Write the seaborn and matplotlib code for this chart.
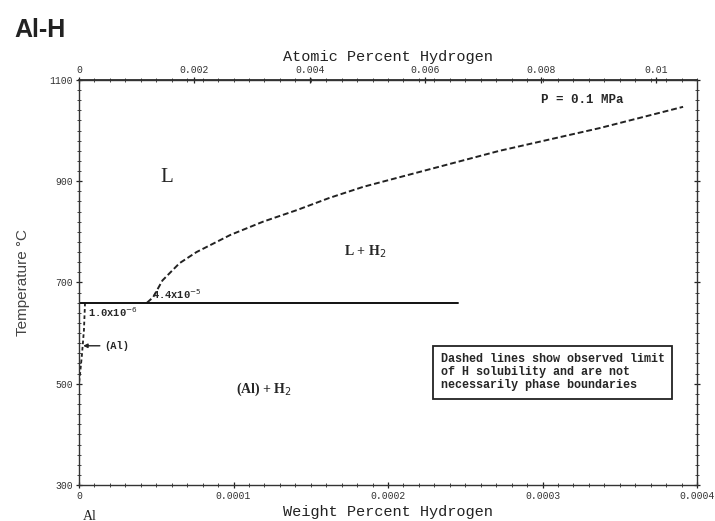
import numpy as np
import pandas as pd
import seaborn as sns
import matplotlib.pyplot as plt
from matplotlib.ticker import MultipleLocator, FixedLocator

# wt% -> at% for Al-H (M_Al / M_H)
WT_TO_AT = 26.98 / 1.008

# liquidus limit (dashed)
liquidus_wt = [4.4e-5, 4.8e-5, 5.4e-5, 6.5e-5, 7.6e-5, 9.8e-5, 1.19e-4, 1.41e-4,
               1.62e-4, 1.84e-4, 2.1e-4, 2.72e-4, 3.37e-4, 3.91e-4]
liquidus_T = [660, 671, 704, 738, 760, 794, 820, 843, 867, 889, 910, 960, 1005, 1047]

# solid solubility limit (dashed)
solidus_wt = [3.9e-6, 3.2e-6, 1.9e-6, 0.6e-6, 0.0]
solidus_T = [660, 606, 557, 517, 500]

# melting isotherm (solid)
melt_wt = [0.0, 2.45e-4]
melt_T = [660.452, 660.452]

wt_ticks = [0, 0.0001, 0.0002, 0.0003, 0.0004]
wt_labels = ["0", "0.0001", "0.0002", "0.0003", "0.0004"]
at_ticks = [0, 0.002, 0.004, 0.006, 0.008, 0.01]
at_labels = ["0", "0.002", "0.004", "0.006", "0.008", "0.01"]
T_ticks = [300, 500, 700, 900, 1100]

sns.set_theme(style="ticks")
plt.rcParams['font.family'] = ['Liberation Mono', 'DejaVu Sans']

fig = plt.figure(figsize=(7.15, 5.21), dpi=100)
ax = fig.add_axes([79 / 715, 1 - 485 / 521, 618 / 715, 405 / 521])

df_liq = pd.DataFrame({"wt": liquidus_wt, "T": liquidus_T})
df_sol = pd.DataFrame({"wt": solidus_wt, "T": solidus_T})
df_melt = pd.DataFrame({"wt": melt_wt, "T": melt_T})

sns.lineplot(data=df_liq, x="wt", y="T", ax=ax, color="#222222", lw=1.4,
             linestyle=(0, (3, 1.5)), sort=False)
sns.lineplot(data=df_sol, x="wt", y="T", ax=ax, color="#222222", lw=1.3,
             linestyle=(0, (2, 1.5)), sort=False)
sns.lineplot(data=df_melt, x="wt", y="T", ax=ax, color="#111111", lw=1.4, sort=False)

ax.set_xlim(0, 0.0004)
ax.set_ylim(300, 1100)
ax.set_xticks(wt_ticks)
ax.set_xticklabels(wt_labels)
ax.set_yticks(T_ticks)
ax.set_yticklabels([str(t) for t in T_ticks])
ax.xaxis.set_minor_locator(MultipleLocator(0.00001))
ax.yaxis.set_minor_locator(MultipleLocator(20))
ax.tick_params(axis="both", which="major", labelsize=7, length=5, width=0.9,
               direction="inout", colors="#222222", labelcolor="#333333", pad=2)
ax.tick_params(axis="both", which="minor", length=3, width=0.7,
               direction="inout", colors="#444444")
ax.tick_params(right=True, which="both")
ax.set_xlabel("Weight Percent Hydrogen", fontsize=11, color="#222222", va="center")
ax.xaxis.set_label_coords(0.5, -27 / 405)
ax.set_ylabel("Temperature °C", fontsize=11, family="Liberation Sans",
              labelpad=14, color="#444444")
for s in ax.spines.values():
    s.set_linewidth(1.0)
    s.set_color("#333333")

top = ax.secondary_xaxis("top", functions=(lambda w: w * WT_TO_AT, lambda a: a / WT_TO_AT))
top.set_xticks(at_ticks)
top.set_xticklabels(at_labels)
top.xaxis.set_minor_locator(FixedLocator([i * 0.00001 * WT_TO_AT for i in range(41)]))
top.tick_params(which="major", labelsize=7, length=5, width=0.9, direction="inout",
                colors="#222222", labelcolor="#333333", pad=1)
top.tick_params(which="minor", length=3, width=0.7, direction="inout", colors="#444444")
top.set_xlabel("Atomic Percent Hydrogen", fontsize=11, labelpad=3, color="#222222")

# region labels
ax.text(0.0000565, 908, "L", fontsize=15, family="Liberation Serif", ha="center", va="center")
ax.text(0.0001855, 760, "L + H$_2$", fontsize=10, fontweight="bold",
        family="Liberation Serif", ha="center", va="center")
ax.text(0.0001195, 488, "(Al) + H$_2$", fontsize=10, fontweight="bold",
        family="Liberation Serif", ha="center", va="center")
ax.text(0.000326, 1060, "P = 0.1 MPa", fontsize=9, fontweight="bold",
        ha="center", va="center")
ax.text(0.0000058, 642, "1.0x10$^{-6}$", fontsize=7.5, fontweight="bold",
        ha="left", va="center")
ax.text(0.0000475, 677, "4.4x10$^{-5}$", fontsize=7.5, fontweight="bold",
        ha="left", va="center")
ax.annotate("(Al)", xy=(0.0000027, 575), xytext=(0.0000165, 575),
            fontsize=7.5, fontweight="bold", ha="left", va="center",
            arrowprops=dict(arrowstyle="-|>", lw=1.0, color="#222222",
                            mutation_scale=6, shrinkA=1, shrinkB=0))
ax.text(0.000234, 523,
        "Dashed lines show observed limit\nof H solubility and are not\nnecessarily phase boundaries",
        fontsize=8.5, fontweight="bold", ha="left", va="center", linespacing=1.15,
        bbox=dict(boxstyle="square,pad=0.6", fc="white", ec="#222222", lw=1.3))

fig.text(14 / 715, 1 - 30 / 521, "Al-H", fontsize=18, fontweight="bold",
         family="Liberation Sans", ha="left", va="center", color="#222222")
fig.text(90 / 715, 1 - 516 / 521, "Al", fontsize=10, family="Liberation Serif",
         ha="center", va="center", color="#222222")

fig.savefig("out.png", dpi=100, facecolor="white")
